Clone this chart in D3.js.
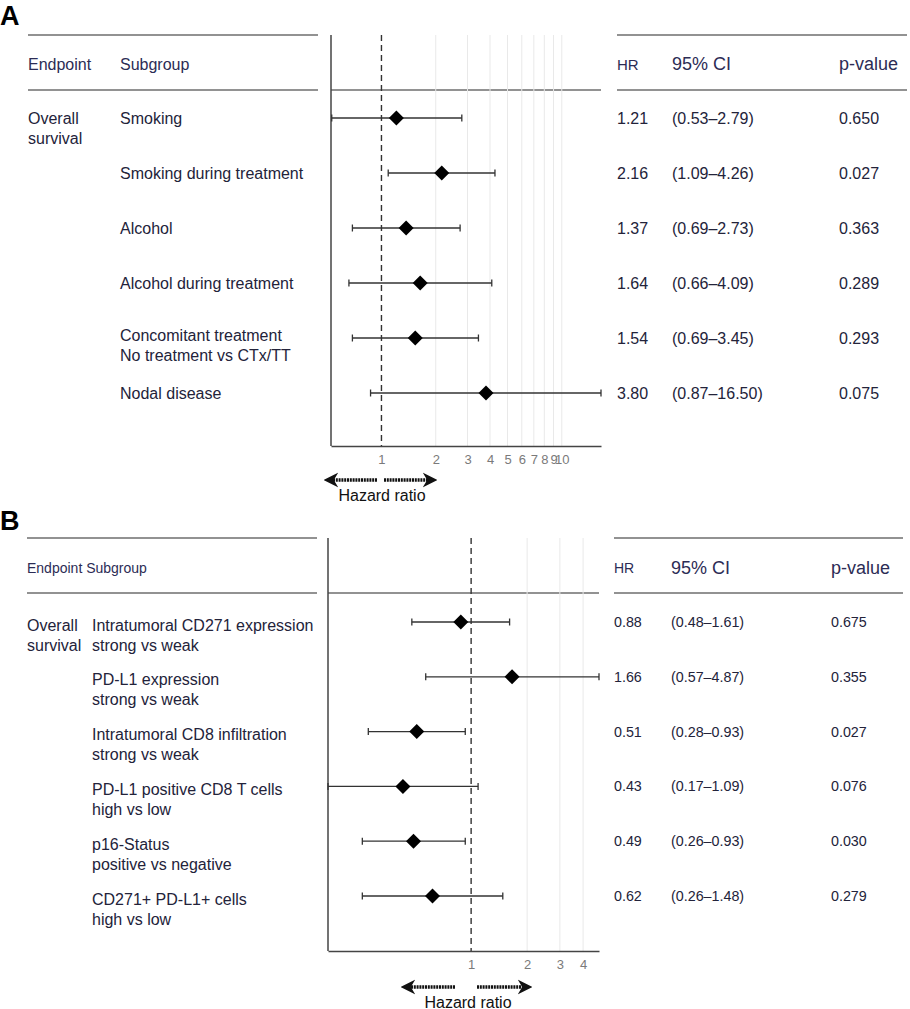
<!DOCTYPE html>
<html>
<head>
<meta charset="utf-8">
<script src="https://cdn.jsdelivr.net/npm/d3@7"></script>
<style>
  body { margin: 0; background: #fff; }
  svg text { font-family: "Liberation Sans", Arial, sans-serif; }
</style>
</head>
<body>
<div class="forest"></div>
<script>
// panel A - lifestyle / clinical factors
const subgroupsA = [
  ["Smoking"],
  ["Smoking during treatment"],
  ["Alcohol"],
  ["Alcohol during treatment"],
  ["Concomitant treatment", "No treatment vs CTx/TT"],
  ["Nodal disease"]
];
const hrA = [1.21, 2.16, 1.37, 1.64, 1.54, 3.80];
const lowerA = [0.53, 1.09, 0.69, 0.66, 0.69, 0.87];
const upperA = [2.79, 4.26, 2.73, 4.09, 3.45, 16.50];
const pA = ["0.650", "0.027", "0.363", "0.289", "0.293", "0.075"];
const ticksA = [1, 2, 3, 4, 5, 6, 7, 8, 9, 10];

// panel B - immune markers
const subgroupsB = [
  ["Intratumoral CD271 expression", "strong vs weak"],
  ["PD-L1 expression", "strong vs weak"],
  ["Intratumoral CD8 infiltration", "strong vs weak"],
  ["PD-L1 positive CD8 T cells", "high vs low"],
  ["p16-Status", "positive vs negative"],
  ["CD271+ PD-L1+ cells", "high vs low"]
];
const hrB = [0.88, 1.66, 0.51, 0.43, 0.49, 0.62];
const lowerB = [0.48, 0.57, 0.28, 0.17, 0.26, 0.26];
const upperB = [1.61, 4.87, 0.93, 1.09, 0.93, 1.48];
const pB = ["0.675", "0.355", "0.027", "0.076", "0.030", "0.279"];
const ticksB = [1, 2, 3, 4];

const endpoint = ["Overall", "survival"];

const textColor = "#23233a";
const headColor = "#2c2c55";
const ruleColor = "#6e6e6e";

const svg = d3.select(".forest")
  .append("svg")
  .attr("width", 910)
  .attr("height", 1009);

// arrow head for the "Hazard ratio" arrows
svg.append("defs").append("marker")
  .attr("id", "head")
  .attr("viewBox", "0 0 10 10")
  .attr("refX", 7).attr("refY", 5)
  .attr("markerWidth", 4.4).attr("markerHeight", 5)
  .attr("markerUnits", "strokeWidth")
  .attr("orient", "auto-start-reverse")
  .append("path")
  .attr("d", "M0,0 L10,5 L0,10 L3,5 Z")
  .attr("fill", "#111");

function drawPanel(p) {
  const g = svg.append("g");

  const x = d3.scaleLog().domain(p.domain).range([p.left, p.right]);
  const y = d3.scalePoint().domain(d3.range(p.hr.length)).range(p.rows);

  // panel letter
  g.append("text")
    .attr("x", 0).attr("y", p.letterY)
    .attr("font-size", 27).attr("font-weight", "bold")
    .attr("fill", "#000")
    .text(p.letter);

  // table rules
  const rule = (x1, x2, yy) => g.append("line")
    .attr("x1", x1).attr("x2", x2).attr("y1", yy).attr("y2", yy)
    .attr("stroke", ruleColor).attr("stroke-width", 1.4);
  rule(p.leftTable[0], p.leftTable[1], p.top);
  rule(p.leftTable[0], p.leftTable[1], p.headLine);
  rule(p.rightTable[0], p.rightTable[1], p.top);
  rule(p.rightTable[0], p.rightTable[1], p.headLine);
  rule(p.left, p.right, p.headLine);

  // light grid
  g.selectAll(".grid")
    .data(p.ticks.filter(t => t !== 1))
    .join("line")
    .attr("x1", d => x(d)).attr("x2", d => x(d))
    .attr("y1", p.top).attr("y2", p.bottom)
    .attr("stroke", "#e9e9e9").attr("stroke-width", 1);

  // reference line at HR = 1
  g.append("line")
    .attr("x1", x(1)).attr("x2", x(1))
    .attr("y1", p.top).attr("y2", p.bottom)
    .attr("stroke", "#333").attr("stroke-width", 1.4)
    .attr("stroke-dasharray", "6,4");

  // left frame
  g.append("line")
    .attr("x1", p.left).attr("x2", p.left)
    .attr("y1", p.top).attr("y2", p.bottom)
    .attr("stroke", "#444").attr("stroke-width", 1.5);

  // x axis
  const axis = g.append("g")
    .attr("transform", "translate(0," + p.bottom + ")")
    .call(d3.axisBottom(x).tickValues(p.ticks).tickFormat(d3.format("d"))
      .tickSize(0).tickPadding(9));
  axis.select(".domain").attr("stroke", "#444").attr("stroke-width", 1.5);
  axis.selectAll("text")
    .attr("fill", "#7a7a7a")
    .attr("font-size", p.tickSize)
    .attr("font-family", "Liberation Sans, Arial, sans-serif");

  // confidence intervals
  const clampX = v => Math.max(p.left, Math.min(p.right, x(v)));
  const rows = g.selectAll(".row").data(p.hr.map((d, i) => i)).join("g");
  rows.append("line")
    .attr("x1", i => clampX(p.lower[i])).attr("x2", i => clampX(p.upper[i]))
    .attr("y1", i => y(i)).attr("y2", i => y(i))
    .attr("stroke", "#333").attr("stroke-width", 1.3);
  [p.lower, p.upper].forEach(arr => {
    rows.append("line")
      .attr("x1", i => clampX(arr[i])).attr("x2", i => clampX(arr[i]))
      .attr("y1", i => y(i) - 3.5).attr("y2", i => y(i) + 3.5)
      .attr("stroke", "#333").attr("stroke-width", 1.3);
  });
  // diamonds
  rows.append("path")
    .attr("d", i => {
      const cx = x(p.hr[i]), cy = y(i), r = 7.5;
      return `M${cx},${cy - r}L${cx + r},${cy}L${cx},${cy + r}L${cx - r},${cy}Z`;
    })
    .attr("fill", "#000");

  // left table text
  g.append("text")
    .attr("x", p.colEnd).attr("y", p.headY)
    .attr("dominant-baseline", "central")
    .attr("font-size", p.headSize).attr("fill", headColor)
    .text(p.endpointHead);
  if (p.subHead) {
    g.append("text")
      .attr("x", p.colSub).attr("y", p.headY)
      .attr("dominant-baseline", "central")
      .attr("font-size", p.headSize).attr("fill", headColor)
      .text(p.subHead);
  }
  endpoint.forEach((t, k) => {
    g.append("text")
      .attr("x", p.colEnd).attr("y", p.endY[k])
      .attr("dominant-baseline", "central")
      .attr("font-size", p.labelSize).attr("fill", textColor)
      .text(t);
  });
  rows.each(function (i) {
    const lines = p.labels[i];
    const offs = lines.length === 1 ? [0] : p.twoLine;
    lines.forEach((t, k) => {
      d3.select(this).append("text")
        .attr("x", p.colSub).attr("y", y(i) + offs[k])
        .attr("dominant-baseline", "central")
        .attr("font-size", p.labelSize).attr("fill", textColor)
        .text(t);
    });
  });

  // right table text
  const head = (xx, t, size) => g.append("text")
    .attr("x", xx).attr("y", p.headY)
    .attr("dominant-baseline", "central")
    .attr("font-size", size).attr("fill", headColor)
    .text(t);
  head(p.colHR, "HR", p.hrHeadSize);
  head(p.colCI, "95% CI", 18);
  head(p.colP, "p-value", 18);

  const cell = (xx, f) => rows.append("text")
    .attr("x", xx).attr("y", i => y(i))
    .attr("dominant-baseline", "central")
    .attr("font-size", p.valueSize).attr("fill", textColor)
    .text(f);
  cell(p.colHR, i => p.hr[i].toFixed(2));
  cell(p.colCI, i => "(" + p.lower[i].toFixed(2) + "\u2013" + p.upper[i].toFixed(2) + ")");
  cell(p.colP, i => p.pval[i]);

  // hazard ratio arrows
  p.arrows.forEach(([a, b]) => {
    g.append("line")
      .attr("x1", a).attr("x2", b)
      .attr("y1", p.arrowY).attr("y2", p.arrowY)
      .attr("stroke", "#111").attr("stroke-width", 3.3)
      .attr("stroke-dasharray", "2,0.8")
      .attr("marker-end", "url(#head)");
  });
  g.append("text")
    .attr("x", p.hzX).attr("y", p.arrowY + 15)
    .attr("text-anchor", "middle")
    .attr("dominant-baseline", "central")
    .attr("font-size", 16).attr("fill", "#111")
    .text("Hazard ratio");
}

drawPanel({
  letter: "A", letterY: 25,
  hr: hrA, lower: lowerA, upper: upperA, pval: pA, labels: subgroupsA, ticks: ticksA,
  domain: [0.525, 16.5], left: 331, right: 601,
  rows: [118, 393], top: 35, headLine: 90, bottom: 446,
  leftTable: [28, 318], rightTable: [617, 907],
  headY: 64, endpointHead: "Endpoint", subHead: "Subgroup", headSize: 16,
  colEnd: 28, colSub: 120, endY: [118, 138], twoLine: [-3, 17],
  labelSize: 16, valueSize: 16, hrHeadSize: 15, tickSize: 13,
  colHR: 617, colCI: 672, colP: 839,
  arrows: [[377, 328], [384, 433]], arrowY: 480, hzX: 382
});

drawPanel({
  letter: "B", letterY: 530,
  hr: hrB, lower: lowerB, upper: upperB, pval: pB, labels: subgroupsB, ticks: ticksB,
  domain: [0.17, 4.87], left: 328, right: 599,
  rows: [622, 896], top: 538, headLine: 593, bottom: 951,
  leftTable: [27, 317], rightTable: [614, 903],
  headY: 568, endpointHead: "Endpoint Subgroup", subHead: null, headSize: 14,
  colEnd: 27, colSub: 92, endY: [625, 645], twoLine: [3, 23],
  labelSize: 16, valueSize: 14.3, hrHeadSize: 14, tickSize: 13,
  colHR: 614, colCI: 671, colP: 831,
  arrows: [[455, 405], [477, 528]], arrowY: 987, hzX: 468
});
</script>
</body>
</html>
